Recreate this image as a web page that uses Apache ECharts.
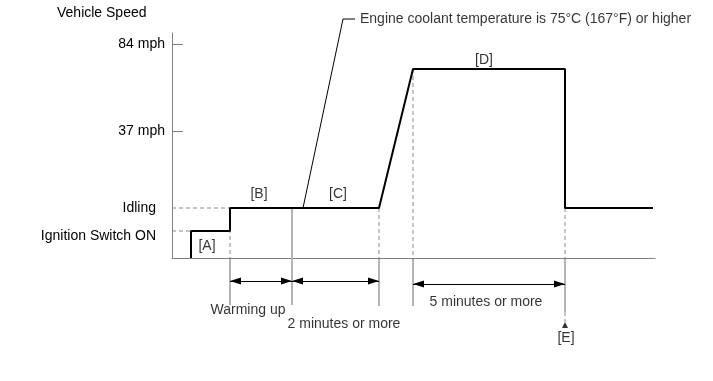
<!DOCTYPE html>
<html><head><meta charset="utf-8">
<script src="https://cdn.jsdelivr.net/npm/echarts@6/dist/echarts.min.js"></script>
<style>html,body{margin:0;padding:0;background:#fff}#c{width:713px;height:381px}</style>
</head><body><div id="c"></div>
<script>
// ---- Data (schematic diagram units: time along x, level above the baseline along y) ----
const levelLabels = ['Ignition Switch ON', 'Idling', '37 mph', '84 mph'];
const levelValues = [27, 50, 127, 214];
const tickedLevels = [127, 214];

const traceTime  = [19, 19, 58, 58, 207, 241, 393, 393, 481];
const traceLevel = [0, 27, 27, 50, 50, 189, 189, 50, 50];

const leaderTime  = [131, 171, 183];
const leaderLevel = [50, 239, 239];
const leaderText = 'Engine coolant temperature is 75°C (167°F) or higher';

const phaseNames = ['[A]', '[B]', '[C]', '[D]', '[E]'];
const phaseTime  = [35, 87, 166, 312, 394];
const phaseLevel = [12, 64, 64, 198, -80];

const durationNames      = ['Warming up', '2 minutes or more', '5 minutes or more'];
const durationStart      = [58, 120, 241];
const durationEnd        = [120, 207, 393];
const durationLevel      = [-23, -23, -26];
const durationLabelTime  = [76, 172, 314];
const durationLabelLevel = [-52, -66, -44];

// guide segments: [time0, level0, time1, level1]
const dashedGuides = [
  [0, 50, 58, 50], [0, 27, 19, 27],
  [58, 50, 58, 0], [207, 50, 207, 0], [241, 189, 241, 0], [393, 50, 393, 0],
  [393, -54, 393, -64]
];
const solidGuides = [
  [58, 0, 58, -47], [207, 0, 207, -48], [241, 0, 241, -48], [393, 0, 393, -54]
];
const lightGuides = [[120, 50, 120, -47]];
const eMarker = [393, -67];

// ---- Chart ----
const FONT = 'Liberation Sans, Arial, sans-serif';
const FS = 14;
const chart = echarts.init(document.getElementById('c'), null, {renderer: 'canvas'});

function seg(g, style, z) {
  return {
    type: 'line', data: [[g[0], g[1]], [g[2], g[3]]], symbol: 'none', clip: false,
    silent: true, z: z || 2, lineStyle: style, animation: false
  };
}

const series = [];
dashedGuides.forEach(g => series.push(seg(g, {color: '#8a8a8a', width: 1, type: [4, 3]}, 1)));
solidGuides.forEach(g => series.push(seg(g, {color: '#6a6a6a', width: 1}, 1)));
lightGuides.forEach(g => series.push(seg(g, {color: '#b4b4b4', width: 2}, 1)));

series.push({
  type: 'line', data: traceTime.map((t, i) => [t, traceLevel[i]]), symbol: 'none',
  clip: false, z: 5, lineStyle: {color: '#000', width: 2}
});

series.push({
  type: 'line', symbol: 'none', clip: false, z: 5,
  lineStyle: {color: '#000', width: 1},
  data: leaderTime.map((t, i) => [t, leaderLevel[i]])
});

// arrowhead whose tip sits at the symbol centre
const ARROW = 'path://M0,-11M0,0L3.5,11L-3.5,11Z';
series.push({
  type: 'lines', coordinateSystem: 'cartesian2d', clip: false, silent: true, z: 6,
  symbol: [ARROW, ARROW], symbolSize: [[7, 22], [7, 22]],
  lineStyle: {color: '#000', width: 1, opacity: 1, curveness: 0},
  itemStyle: {color: '#000'},
  data: durationNames.map((n, i) => ({
    coords: [[durationStart[i], durationLevel[i]], [durationEnd[i], durationLevel[i]]]
  }))
});

const last = leaderTime.length - 1;
series.push({
  type: 'scatter', symbolSize: 0, clip: false, silent: true,
  data: phaseNames.map((n, i) => ({name: n, value: [phaseTime[i], phaseLevel[i]]}))
    .concat(durationNames.map((n, i) => ({name: n, value: [durationLabelTime[i], durationLabelLevel[i]]})))
    .concat([{name: leaderText, value: [leaderTime[last], leaderLevel[last]],
      label: {position: 'right', distance: 5}}]),
  label: {show: true, position: 'inside', formatter: '{b}', color: '#000', fontSize: FS, fontFamily: FONT}
});

series.push({
  type: 'scatter', symbol: 'triangle', symbolSize: [6, 6], clip: false, silent: true,
  itemStyle: {color: '#000'}, data: [eMarker]
});

const labelMap = {};
levelValues.forEach((v, i) => labelMap[v] = levelLabels[i]);

chart.setOption({
  animation: false,
  backgroundColor: '#fff',
  title: {text: 'Vehicle Speed', left: 57, top: 6, padding: 0,
    textStyle: {fontSize: FS, fontWeight: 'normal', color: '#000', fontFamily: FONT}},
  grid: {left: 172, right: 58, top: 33, bottom: 123, containLabel: false},
  xAxis: {type: 'value', min: 0, max: 483, axisLine: {show: true, onZero: true, lineStyle: {color: '#808080', width: 1}},
    axisTick: {show: false}, axisLabel: {show: false}, splitLine: {show: false}},
  yAxis: {type: 'value', min: 0, max: 225,
    axisLine: {show: true, lineStyle: {color: '#808080', width: 1}},
    axisTick: {show: true, inside: true, length: 11, customValues: tickedLevels, lineStyle: {color: '#808080'}},
    splitLine: {show: false},
    axisLabel: {show: true, customValues: levelValues, margin: 7, color: '#000', fontSize: FS, fontFamily: FONT,
      formatter: v => {
        const t = labelMap[v];
        if (t === 'Idling') return '{b|' + t + '}';
        if (t === 'Ignition Switch ON') return '{c|' + t + '}';
        return '{a|' + t + '}';
      },
      rich: {
        a: {fontSize: FS, fontFamily: FONT, color: '#000'},
        b: {fontSize: FS, fontFamily: FONT, color: '#000', padding: [0, 9, 0, 0]},
        c: {fontSize: FS, fontFamily: FONT, color: '#000', padding: [10, 9, 0, 0]}
      }
    }
  },
  series: series
});
</script></body></html>
